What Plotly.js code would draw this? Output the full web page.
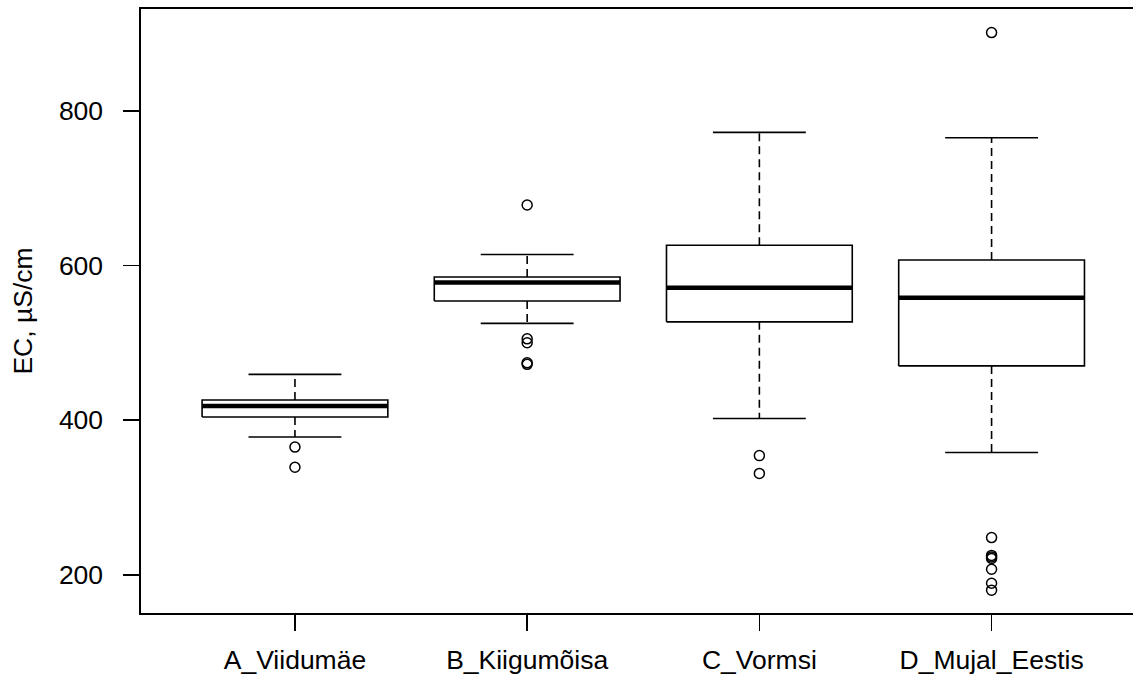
<!DOCTYPE html>
<html>
<head>
<meta charset="utf-8">
<script src="https://cdn.plot.ly/plotly-3.0.1.min.js"></script>
<style>html,body{margin:0;padding:0;background:#fff;}#chart{width:1133px;height:681px;}</style>
</head>
<body>
<div id="chart"></div>
<script>
// ---- data ----
var categories = ["A_Viidumäe", "B_Kiigumõisa", "C_Vormsi", "D_Mujal_Eestis"];
var lowerWhisker = [378, 525, 402, 358];
var q1 = [404, 554, 527, 470];
var median = [418, 578, 571, 558];
var q3 = [426, 585, 626, 607];
var upperWhisker = [459, 614, 772, 765];
var outliersA = [365, 339];
var outliersB = [678, 505, 500, 474, 472];
var outliersC = [354, 331];
var outliersD = [901, 248, 225, 223, 221, 207, 189, 180];
var yTicks = [200, 400, 600, 800];

var outliers = [outliersA, outliersB, outliersC, outliersD];
var boxHalf = 0.4, stapleHalf = 0.2;
var traces = [];
var lw = 1.6;
function seg(xs, ys, width, dash) {
  traces.push({type: "scatter", mode: "lines", x: xs, y: ys,
    line: {color: "#000", width: width, dash: dash || "solid"},
    hoverinfo: "skip", showlegend: false});
}
categories.forEach(function (c, i) {
  var p = i + 1;
  // whiskers (dashed)
  seg([p, p], [q3[i], upperWhisker[i]], lw, "8px,5px");
  seg([p, p], [q1[i], lowerWhisker[i]], lw, "8px,5px");
  // staples
  seg([p - stapleHalf, p + stapleHalf], [upperWhisker[i], upperWhisker[i]], lw);
  seg([p - stapleHalf, p + stapleHalf], [lowerWhisker[i], lowerWhisker[i]], lw);
  // box
  traces.push({type: "scatter", mode: "lines",
    x: [p - boxHalf, p + boxHalf, p + boxHalf, p - boxHalf, p - boxHalf],
    y: [q1[i], q1[i], q3[i], q3[i], q1[i]],
    fill: "toself", fillcolor: "#fff",
    line: {color: "#000", width: lw}, hoverinfo: "skip", showlegend: false});
  // median
  seg([p - boxHalf, p + boxHalf], [median[i], median[i]], 4.5);
  // outliers
  traces.push({type: "scatter", mode: "markers",
    x: outliers[i].map(function () { return p; }), y: outliers[i],
    marker: {symbol: "circle-open", size: 10, color: "#000", line: {width: 1.5, color: "#000"}},
    showlegend: false, hoverinfo: "y"});
});

var font = {family: "Liberation Sans, Arial, sans-serif", size: 26.5, color: "#000"};
var layout = {
  width: 1133, height: 681,
  margin: {l: 141, r: 0, t: 9, b: 68},
  paper_bgcolor: "#fff", plot_bgcolor: "#fff",
  font: font,
  showlegend: false,
  xaxis: {
    range: [0.337, 4.609], tickvals: [1, 2, 3, 4], ticktext: categories,
    showgrid: false, zeroline: false, showline: true, mirror: true,
    linecolor: "#000", linewidth: 1.6, ticks: "outside", ticklen: 16,
    tickwidth: 1.6, tickcolor: "#000", tickfont: font, ticklabelstandoff: 7
  },
  yaxis: {
    range: [150.5, 931.5], tickvals: yTicks, ticktext: yTicks.map(String),
    showgrid: false, zeroline: false, showline: true, mirror: false,
    linecolor: "#000", linewidth: 1.6, ticks: "outside", ticklen: 16,
    tickwidth: 1.6, tickcolor: "#000", tickfont: font, ticklabelstandoff: 15,
    title: {text: "EC, µS/cm", font: font, standoff: 18}
  }
};
Plotly.newPlot("chart", traces, layout, {displayModeBar: false, staticPlot: true});
</script>
</body>
</html>
